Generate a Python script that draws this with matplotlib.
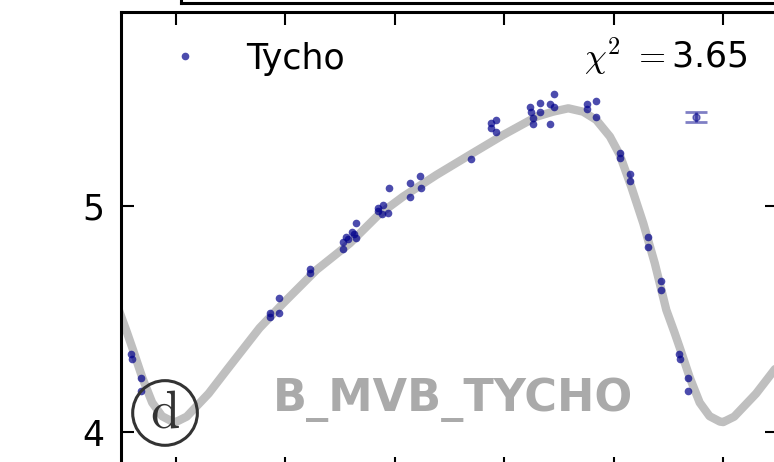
import numpy as np
import matplotlib
matplotlib.use('Agg')
import matplotlib.pyplot as plt

plt.rcParams['mathtext.fontset'] = 'cm'

# Tycho B photometry folded on the period (phase, mag)
tycho_phase = [0.1717, 0.1717, 0.1887, 0.1887, 0.2447, 0.2447, 0.3056, 0.3056,
               0.3118, 0.3147, 0.3220, 0.3251, 0.3301, 0.3301, 0.3695, 0.3695,
               0.3786, 0.3775, 0.3878, 0.3890, 0.4274, 0.4274, 0.4469, 0.4475,
               0.5388, 0.5766, 0.5845, 0.5766, 0.5845, 0.6479, 0.6497, 0.6526,
               0.6526, 0.6648, 0.6648, 0.6831, 0.6831, 0.6904, 0.6904, 0.7520,
               0.7520, 0.7684, 0.7684, 0.8122, 0.8122, 0.8292, 0.8292, 0.8627,
               0.8627, 0.8858, 0.8858, 0.9187, 0.9205, 0.9361, 0.9361]
tycho_mag = [4.525, 4.510, 4.592, 4.528, 4.721, 4.702, 4.839, 4.810,
             4.864, 4.853, 4.886, 4.876, 4.923, 4.858, 4.990, 4.979,
             5.004, 4.965, 4.970, 5.078, 5.100, 5.038, 5.133, 5.078,
             5.208, 5.369, 5.381, 5.344, 5.326, 5.437, 5.417, 5.388,
             5.363, 5.457, 5.415, 5.362, 5.450, 5.494, 5.439, 5.451,
             5.429, 5.465, 5.395, 5.236, 5.211, 5.142, 5.112, 4.862,
             4.817, 4.668, 4.628, 4.347, 4.322, 4.239, 4.180]

# model light curve over one cycle
model_phase = [0.0, 0.02, 0.06, 0.095, 0.153, 0.196, 0.257, 0.318, 0.37, 0.415,
               0.476, 0.537, 0.598, 0.659, 0.689, 0.717, 0.744, 0.768, 0.793,
               0.811, 0.832, 0.854, 0.875, 0.896, 0.911, 0.921, 0.939, 0.957,
               0.975, 0.994]
model_mag = [4.044, 4.068, 4.17, 4.28, 4.46, 4.569, 4.717, 4.835, 4.96, 5.041,
             5.137, 5.226, 5.314, 5.395, 5.417, 5.432, 5.417, 5.381, 5.307,
             5.226, 5.085, 4.923, 4.746, 4.540, 4.44, 4.37, 4.24, 4.13, 4.07, 4.046]

typ_err = 0.022
chi2 = 3.65
band_name = 'B_MVB_TYCHO'

xmin, xmax = -0.1, 1.1

fig = plt.figure(figsize=(7.74, 4.62), dpi=100)
# bottom edge of the panel above
top = fig.add_axes([181/774, 1 - 3/462, 0.9, 0.2])
top.set_xticks([])
top.set_yticks([])
for s in top.spines.values():
    s.set_linewidth(2.2)

ax = fig.add_axes([121/774, -8/462, 657/774, 458/462])

mp = np.array(model_phase)
mm = np.array(model_mag)
cp = np.concatenate([mp - 1, mp, mp + 1])
cm = np.concatenate([mm, mm, mm])
ax.plot(cp, cm, color='0.75', lw=6, zorder=1, solid_capstyle='round',
        solid_joinstyle='round')

tp = np.array(tycho_phase)
tm = np.array(tycho_mag)
wrap = tp - 1 >= xmin
ax.plot(tp, tm, 'o', color='darkblue', alpha=0.7, ms=5.5, mew=0, zorder=3, label='Tycho')
ax.plot(tp[wrap] - 1, tm[wrap], 'o', color='darkblue', alpha=0.7, ms=5.5, mew=0, zorder=3)

# typical error bar
ax.errorbar([0.951], [5.394], yerr=[typ_err], fmt='o', color='darkblue', alpha=0.5,
            ms=5, capsize=8, capthick=2, elinewidth=2, zorder=3)

ax.set_xlim(xmin, xmax)
ax.set_ylim(3.832, 5.858)
ax.set_xticks([0, 0.2, 0.4, 0.6, 0.8, 1.0])
ax.set_yticks([4, 5])
ax.tick_params(direction='in', length=9.5, width=1.5, top=True, right=True,
               labelbottom=False, labelsize=25, pad=12)
for s in ax.spines.values():
    s.set_linewidth(2.2)

ax.legend(loc='upper left', numpoints=1, frameon=False, fontsize=25,
          borderaxespad=0.45, handletextpad=0.75)

ax.text(0.954, 0.904, r'$\chi^2\ =$' + '%.2f' % chi2, transform=ax.transAxes,
        ha='right', va='center', fontsize=25)
ax.text(0.505, 0.153, band_name, transform=ax.transAxes, ha='center', va='center',
        fontsize=32, fontweight='bold', color='#aaaaaa')
ax.text(0.067, 0.1245, r'$\mathrm{d}$', transform=ax.transAxes, ha='center',
        va='center', fontsize=38, color='#333333', zorder=4,
        bbox=dict(boxstyle='circle,pad=0.12', fc='none', ec='#333333', lw=2.2))

fig.savefig('out.png', dpi=100)
